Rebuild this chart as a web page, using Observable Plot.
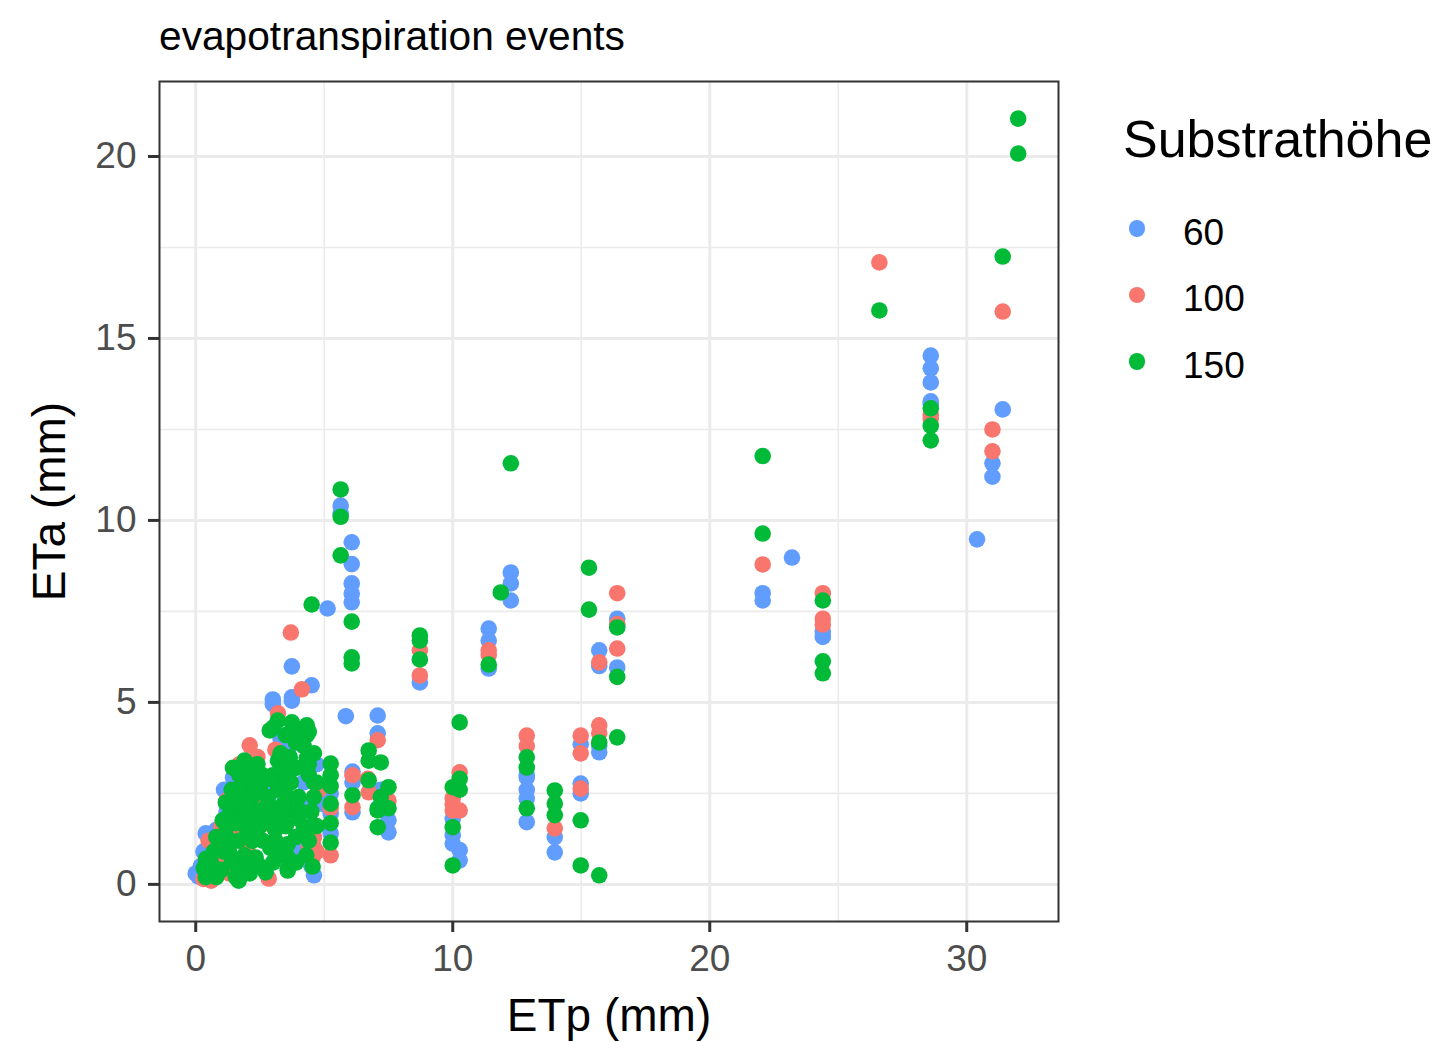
<!DOCTYPE html>
<html>
<head>
<meta charset="utf-8">
<script src="https://cdn.jsdelivr.net/npm/d3@7"></script>
<script src="https://cdn.jsdelivr.net/npm/@observablehq/plot@0.6"></script>
<style>
  html, body { margin: 0; padding: 0; background: #ffffff; }
  #wrap { position: relative; width: 1439px; height: 1042px; font-family: "Liberation Sans", Arial, sans-serif; }
  #chart svg { display: block; }
  #chart g[aria-label="x-axis label"], #chart g[aria-label="y-axis label"] { font-size: 46px; fill: #000000; }
  .title { position: absolute; left: 159px; top: 16px; font-size: 40.7px; line-height: 1; color: #000; white-space: nowrap; }
  .legtitle { position: absolute; left: 1123px; top: 113px; font-size: 52px; line-height: 1; color: #000; white-space: nowrap; }
  .legitem { position: absolute; left: 1127px; height: 37px; }
  .legitem .dot { position: absolute; left: 1.7px; width: 16.6px; height: 16.6px; border-radius: 50%; }
  .legitem .lab { position: absolute; left: 56px; top: 0; font-size: 37px; line-height: 1; color: #000; white-space: nowrap; }
</style>
</head>
<body>
<div id="wrap">
  <div id="chart"></div>
</div>
<script>
// ---- data (ETp, ETa) per Substrathöhe ----
const substrat = ["60", "100", "150"];
const colors = ["#619CFF", "#F8766D", "#00BA38"];
const xTicks = [0, 10, 20, 30];
const xMinor = [5, 15, 25];
const yTicks = [0, 5, 10, 15, 20];
const yMinor = [2.5, 7.5, 12.5, 17.5];

const s60 = [
  [31.4,13.05],[31.0,11.57],[31.0,11.2],[30.4,9.48],
  [28.6,14.53],[28.6,14.18],[28.6,13.79],[28.6,13.27],[28.6,13.2],
  [22.06,8.0],[22.06,7.8],[23.2,8.98],[24.4,6.8],[24.4,6.95],
  [16.4,7.3],[16.4,5.96],[16.4,7.1],[15.7,6.43],[15.7,6.0],[15.7,3.63],[15.7,3.8],
  [14.98,3.85],[14.98,2.77],[14.98,2.5],
  [13.97,1.3],[13.97,0.88],
  [12.88,2.94],[12.88,2.6],[12.88,2.36],[12.88,1.71],[12.88,3.0],
  [12.26,8.57],[12.26,8.27],[12.26,7.8],
  [11.4,7.03],[11.4,6.7],[11.4,5.93],
  [10.0,1.35],[10.0,1.12],[10.27,0.94],[10.27,0.66],[10.0,1.8],
  [8.72,5.55],
  [7.08,4.64],[7.08,4.15],[7.5,1.76],[7.5,1.43],[7.2,2.6],
  [6.07,9.4],[6.07,8.8],[6.07,8.27],[6.07,7.99],[6.07,7.75],
  [5.64,10.41],[5.64,10.2],
  [5.84,4.62],[5.13,7.58],
  [6.1,2.8],[6.1,1.98],[6.1,3.1],
  [5.25,1.95],[5.25,1.4],[5.25,2.5],
  [4.51,5.47],[3.74,5.99],[3.74,5.14],[3.74,5.05],[3.0,5.08],[3.0,4.95],
  [4.6,0.25],[4.6,1.0],[4.4,2.2],[4.4,3.2],[3.6,3.6],[3.4,3.8],[3.2,1.8],[2.9,2.5],
  [2.5,3.0],[1.45,2.94],[1.2,2.0],[0.9,1.2],[0.39,1.4],[0.6,0.9],[0.0,0.3],[0.1,0.22],
  [0.5,0.5],[1.7,0.6],[2.3,1.4],[3.8,1.0],[4.0,0.8],[1.3,2.4],[4.2,2.8],[5.0,2.2],
  [0.2,0.5],[0.8,1.5],[1.6,2.9],[3.3,4.0],[4.7,3.3],[4.5,0.5],[1.1,2.6],[0.3,0.9]
];

const s100 = [
  [31.4,15.74],[31.0,12.5],[31.0,11.9],[26.6,17.09],[28.6,12.8],[28.6,12.9],
  [22.06,8.79],[24.4,8.0],[24.4,7.3],[24.4,7.14],
  [16.4,8.0],[16.4,7.15],[16.4,6.48],[15.7,6.1],[15.7,4.37],[15.7,4.15],
  [14.98,4.09],[14.98,3.6],[14.98,2.63],[13.97,1.54],
  [12.88,4.09],[12.88,3.8],[11.4,6.43],[11.4,6.3],
  [10.27,3.08],[10.0,2.37],[10.0,2.03],[10.27,2.03],[10.0,2.2],
  [8.72,6.43],[8.72,5.74],
  [7.08,3.96],[6.73,2.53],[6.1,3.0],[6.1,2.12],[5.25,2.1],[5.25,0.8],[7.5,2.3],
  [3.7,6.92],[4.13,5.36],[3.2,4.7],[2.1,3.82],[2.33,1.76],[0.5,1.2],[2.72,0.4],[2.84,0.16],
  [4.55,0.74],[4.55,1.12],[4.4,1.0],[1.0,0.8],[0.3,0.15],[0.6,0.1],[1.5,1.5],[1.8,2.8],
  [2.6,2.2],[3.0,1.6],[1.2,2.3],[0.8,0.5],[3.6,2.0],[4.8,2.6],[4.3,4.3],[2.0,1.0],[1.7,3.3],[6.7,2.9],
  [0.7,1.1],[1.0,1.6],[1.3,0.3],[2.4,3.5],[3.1,3.7],[4.6,1.3],[4.7,0.9],[2.2,2.0]
];

const s150 = [
  [32.0,21.04],[32.0,20.08],[31.4,17.25],[26.6,15.77],
  [28.6,13.08],[28.6,12.6],[28.6,12.2],
  [22.06,11.77],[22.06,9.64],[24.4,7.8],[24.4,6.13],[24.4,5.8],
  [16.4,7.06],[16.4,5.7],[16.4,4.04],[15.3,8.7],[15.3,7.55],[15.7,3.9],[15.7,0.25],
  [14.98,1.76],[14.98,0.52],
  [13.97,2.58],[13.97,2.22],[13.97,1.9],
  [12.88,3.49],[12.88,3.21],[12.88,2.09],
  [12.26,11.57],[11.87,8.02],[11.4,6.04],
  [10.27,4.45],[10.27,2.9],[10.0,2.67],[10.27,2.6],[10.0,1.57],[10.0,0.52],
  [8.72,6.84],[8.72,6.7],[8.72,6.18],
  [5.64,10.85],[5.64,10.1],[5.64,9.04],[6.07,7.22],[6.07,6.24],[6.07,6.07],[4.51,7.69],
  [6.73,3.68],[6.73,3.4],[6.73,2.86],[7.2,3.35],[7.5,2.67],[7.2,2.4],[7.5,2.09],[7.08,2.09],[7.08,1.57],[7.08,2.03],
  [6.1,2.45],[5.25,3.32],[5.25,3.0],[5.25,2.7],[5.25,2.22],[5.25,1.68],[5.25,1.15],
  [2.88,4.23],[3.19,4.5],[3.74,4.45],[4.32,4.37],[4.32,4.1],[3.66,3.49],[4.32,3.46],[3.9,3.9],[4.4,3.0],[4.6,2.8],
  [1.7,3.0],[1.9,3.4],[2.1,3.2],[2.37,3.1],[1.45,3.2],[1.8,2.6],[2.5,2.7],[3.2,2.6],[3.4,2.9],
  [1.17,2.25],[1.67,2.3],[2.2,2.4],[1.05,1.76],[1.56,1.68],[0.9,1.02],[1.67,1.2],[0.31,0.44],[0.39,0.2],
  [1.56,0.2],[1.67,0.47],[2.72,0.33],[2.33,0.74],[3.1,1.2],[1.67,0.1],[3.58,0.44],[4.55,0.49],[3.58,0.38],
  [3.58,0.74],[3.58,1.1],[0.6,0.6],[1.0,0.4],[2.0,1.5],[2.8,1.8],[3.5,1.6],[3.8,2.0],[4.2,1.5],[4.5,2.0],
  [4.0,2.4],[3.0,2.1],[2.6,1.2],[1.3,0.9],[0.8,0.2],[2.1,0.3],[4.4,1.2],[3.9,1.3],[2.4,2.0],[3.4,2.2],
  [4.1,2.0],[3.7,2.8],[3.2,3.4],[1.2,1.3],[2.9,1.0],[4.6,3.6],[3.0,4.3],[4.7,1.6],
  [1.2,1.6],[1.4,2.6],[1.5,2.0],[1.9,1.9],[2.0,2.2],[2.2,2.9],[2.4,3.3],[2.6,3.0],[2.8,2.4],[3.0,3.0],
  [3.3,3.6],[3.5,4.1],[3.7,4.1],[4.0,4.2],[4.2,3.8],[4.4,4.2],[3.9,3.2],[3.5,3.1],[3.1,1.5],[2.5,1.6],
  [2.2,1.2],[1.9,0.8],[1.4,0.6],[1.1,0.9],[0.7,0.9],[0.5,0.3],[1.9,0.3],[2.5,0.5],[3.3,0.8],[3.9,0.6],
  [4.3,0.8],[4.5,1.6],[4.0,1.8],[3.6,2.4],[2.7,2.1],[2.3,2.6],[1.6,2.6],[1.3,1.9],[0.8,1.3],[0.4,0.7],
  [3.0,0.6],[2.0,0.6],[4.6,2.4],[4.4,3.3],[4.7,2.8],[3.3,1.9],[2.9,2.9],[2.0,1.8]
];

const groups = [s60, s100, s150];
const rows = groups.flatMap((g, i) => g.map(([etp, eta]) => ({etp, eta, sub: substrat[i]})));

const chart = Plot.plot({
  width: 1439,
  height: 1042,
  marginLeft: 159,
  marginRight: 381,
  marginTop: 81,
  marginBottom: 121,
  style: {fontFamily: '"Liberation Sans", Arial, sans-serif', background: "#ffffff", overflow: "visible"},
  x: {domain: [-1.41, 33.57]},
  y: {domain: [-1.02, 22.06]},
  color: {domain: substrat, range: colors},
  marks: [
    Plot.gridX(xMinor, {stroke: "#ebebeb", strokeOpacity: 1, strokeWidth: 1.6}),
    Plot.gridY(yMinor, {stroke: "#ebebeb", strokeOpacity: 1, strokeWidth: 1.6}),
    Plot.gridX(xTicks, {stroke: "#ebebeb", strokeOpacity: 1, strokeWidth: 3}),
    Plot.gridY(yTicks, {stroke: "#ebebeb", strokeOpacity: 1, strokeWidth: 3}),
    Plot.dot(rows, {x: "etp", y: "eta", fill: "sub", r: 8.3}),
    Plot.frame({stroke: "#333333", strokeWidth: 2}),
    Plot.axisX(xTicks, {tickSize: 11, tickPadding: 12, fontSize: 37, fill: "#4d4d4d", stroke: "#333333", strokeWidth: 3,
      label: "ETp (mm)", labelAnchor: "center", labelArrow: "none", labelOffset: 109}),
    Plot.axisY(yTicks, {tickSize: 11, tickPadding: 12, fontSize: 37, fill: "#4d4d4d", stroke: "#333333", strokeWidth: 3,
      label: "ETa (mm)", labelAnchor: "center", labelArrow: "none", labelOffset: 127})
  ]
});
document.getElementById("chart").appendChild(chart);

const wrap = document.getElementById("wrap");
const t = document.createElement("div");
t.className = "title";
t.textContent = "evapotranspiration events";
wrap.appendChild(t);

const lt = document.createElement("div");
lt.className = "legtitle";
lt.textContent = "Substrathöhe";
wrap.appendChild(lt);

const baselines = [245, 311.5, 378];
substrat.forEach((s, i) => {
  const it = document.createElement("div");
  it.className = "legitem";
  const top = baselines[i] - 0.8465 * 37;
  it.style.top = top + "px";
  const d = document.createElement("span");
  d.className = "dot";
  d.style.background = colors[i];
  d.style.top = (0.8465 * 37 - 16.5 - 8.3) + "px";
  const l = document.createElement("span");
  l.className = "lab";
  l.textContent = s;
  it.appendChild(d);
  it.appendChild(l);
  wrap.appendChild(it);
});
</script>
</body>
</html>
